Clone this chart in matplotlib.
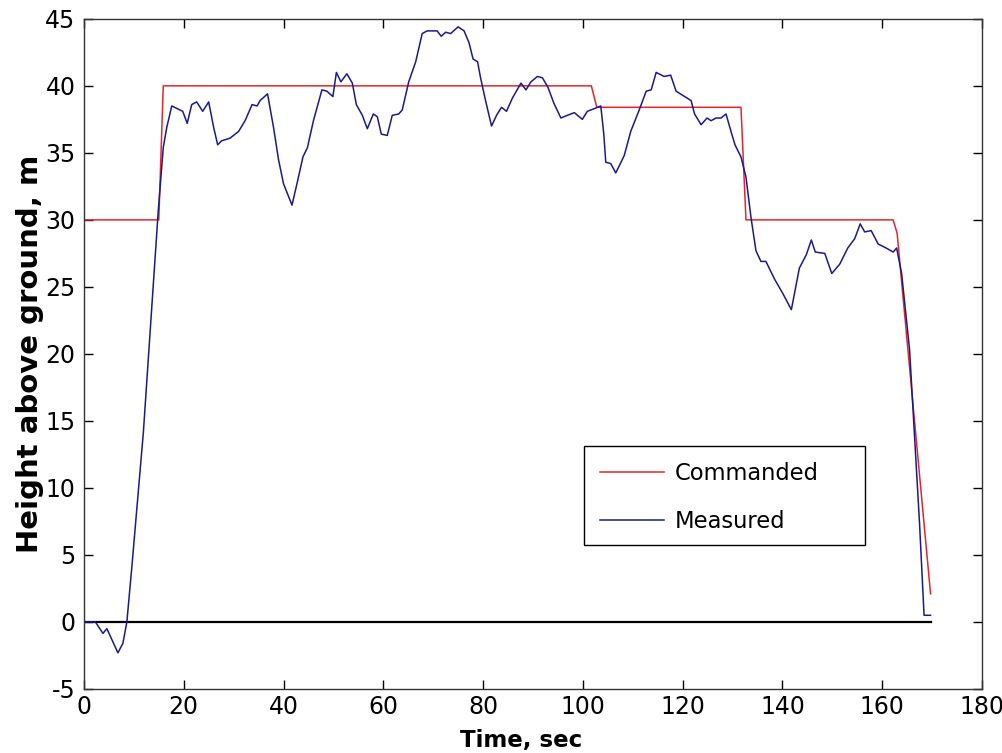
import matplotlib
matplotlib.use("Agg")
import matplotlib.pyplot as plt
from matplotlib.patches import Rectangle

plt.rcParams["font.family"] = ["DejaVu Sans"]
plt.rcParams["axes.unicode_minus"] = False

# commanded height
t_cmd = [0, 15.0, 15.9, 101.7, 102.8, 131.7, 132.7, 162.2, 163.0, 169.7]
h_cmd = [30, 30, 40, 40, 38.4, 38.4, 30, 30, 29.0, 2.1]

# measured height
t_meas = [0, 2.3, 3.8, 4.6, 6.8, 7.8, 8.6, 9.6, 11.9, 14.9, 15.9, 16.6, 17.6,
          19.8, 20.7, 21.6, 22.6, 23.8, 25.0, 26.0, 26.8, 27.6, 29.3, 31.0,
          32.3, 33.7, 34.7, 35.3, 36.8, 38.0, 39.0, 40.0, 41.7, 42.7, 43.9,
          44.8, 46.0, 47.7, 48.7, 49.9, 50.6, 51.5, 52.7, 53.8, 54.6, 55.8,
          56.8, 58.0, 58.8, 59.6, 60.8, 61.8, 63.1, 63.8, 65.1, 66.5, 67.8,
          68.8, 70.8, 71.6, 72.5, 73.5, 75.0, 76.2, 77.2, 78.0, 78.9, 79.5,
          80.5, 81.7, 82.7, 83.7, 84.7, 85.9, 87.6, 88.6, 89.6, 90.9, 91.9,
          93.0, 94.2, 95.6, 96.9, 98.3, 99.9, 100.9, 102.3, 103.6, 104.2,
          104.6, 105.6, 106.6, 108.3, 109.6, 111.3, 112.7, 113.7, 114.7,
          116.3, 117.6, 118.7, 120.0, 121.7, 122.4, 123.7, 124.9, 125.7,
          126.7, 127.7, 128.7, 129.7, 130.5, 131.7, 132.7, 133.7, 134.7,
          135.7, 136.7, 138.4, 140.1, 141.8, 143.4, 144.8, 145.8, 146.6,
          148.5, 149.9, 151.5, 153.1, 154.5, 155.6, 156.5, 157.8, 159.2,
          160.8, 162.2, 162.9, 163.9, 165.5, 166.9, 167.5, 168.4, 169.7]
h_meas = [0, 0, -0.85, -0.5, -2.3, -1.6, 0, 4.1, 14.1, 30.7, 35.4, 36.9, 38.5,
          38.1, 37.2, 38.6, 38.8, 38.1, 38.8, 36.9, 35.6, 35.9, 36.1, 36.6,
          37.4, 38.6, 38.5, 38.9, 39.4, 36.9, 34.5, 32.7, 31.1, 32.7, 34.7,
          35.4, 37.4, 39.7, 39.6, 39.2, 41.0, 40.3, 40.9, 40.2, 38.6, 37.8,
          36.8, 37.9, 37.7, 36.4, 36.3, 37.8, 37.9, 38.2, 40.3, 41.8, 43.9,
          44.1, 44.1, 43.7, 44.0, 43.9, 44.4, 44.1, 43.2, 42.0, 41.8, 40.6,
          38.9, 37.0, 37.8, 38.4, 38.1, 39.1, 40.2, 39.7, 40.3, 40.7, 40.6,
          39.9, 38.7, 37.6, 37.8, 38.0, 37.5, 38.1, 38.3, 38.5, 36.4,
          34.3, 34.2, 33.5, 34.8, 36.6, 38.2, 39.6, 39.7, 41.0,
          40.7, 40.8, 39.6, 39.3, 38.9, 37.9, 37.1, 37.6, 37.4,
          37.6, 37.6, 37.9, 36.6, 35.6, 34.7, 33.2, 30.2, 27.7,
          26.9, 26.9, 25.6, 24.5, 23.3, 26.4, 27.4, 28.5, 27.6,
          27.5, 26.0, 26.7, 27.9, 28.6, 29.7, 29.1, 29.2, 28.2,
          27.9, 27.6, 27.9, 26.0, 20.3, 11.3, 7.3, 0.5, 0.5]

t_zero = [0, 169.7]
h_zero = [0, 0]

fig = plt.figure(figsize=(10.03, 7.53), dpi=100)
ax = fig.add_axes([0.0837, 0.085, 0.8953, 0.89])

ax.plot(t_zero, h_zero, color="black", lw=1.6, zorder=1)
ax.plot(t_cmd, h_cmd, color="#e3262b", lw=1.1, label="Commanded", zorder=2)
ax.plot(t_meas, h_meas, color="#1a1a8c", lw=1.1, label="Measured", zorder=3)

ax.set_xlim(0, 180)
ax.set_ylim(-5, 45)
ax.set_xticks(range(0, 181, 20))
ax.set_yticks(range(-5, 46, 5))

ax.tick_params(direction="in", length=6.5, width=1, top=True, right=True,
               labelsize=17)
ax.tick_params(axis="x", pad=4)
ax.tick_params(axis="y", pad=6)
for s in ax.spines.values():
    s.set_color("#333333")
    s.set_linewidth(1.0)

ax.set_xlabel("Time, sec", fontsize=16.5, fontweight="bold")
ax.xaxis.set_label_coords(0.487, -0.059)
ax.set_ylabel("Height above ground, m", fontsize=21, fontweight="bold",
              labelpad=1)

# legend box (MATLAB style, wider than its content)
ax.add_patch(Rectangle((0.5568, 0.2149), 0.3129, 0.1478,
                       transform=ax.transAxes, facecolor="white",
                       edgecolor="black", lw=1.0, zorder=4))
leg = ax.legend(loc="upper left", bbox_to_anchor=(0.5568, 0.3627),
                fontsize=16.3, frameon=False, handlelength=2.83,
                borderpad=0.72, labelspacing=1.08, handletextpad=0.45,
                borderaxespad=0)
leg.set_zorder(5)

fig.savefig("out.png", dpi=100)
